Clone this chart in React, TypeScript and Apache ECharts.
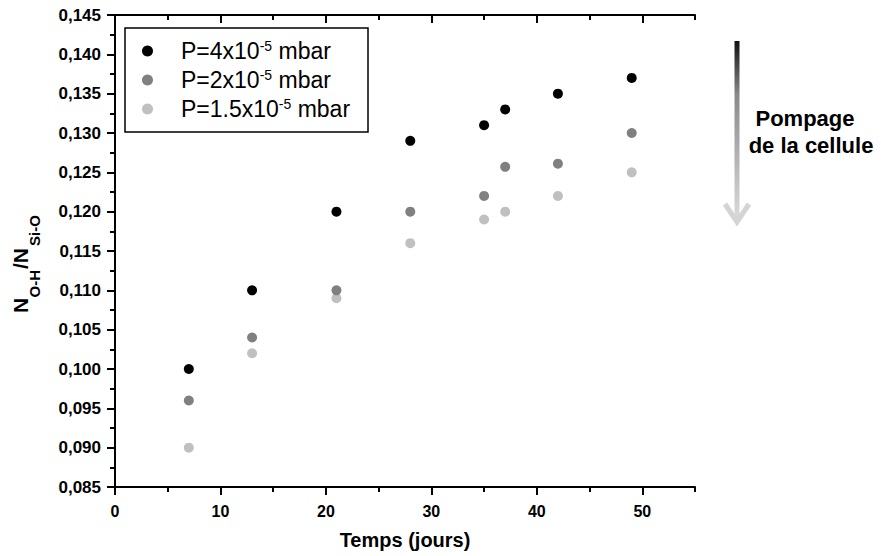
import React, { useEffect, useRef } from "react";
import * as echarts from "echarts";

const days = [7, 13, 21, 28, 35, 37, 42, 49];
const p4 = [0.1, 0.11, 0.12, 0.129, 0.131, 0.133, 0.135, 0.137];
const p2 = [0.096, 0.104, 0.11, 0.12, 0.122, 0.1257, 0.1261, 0.13];
const p15 = [0.09, 0.102, 0.109, 0.116, 0.119, 0.12, 0.122, 0.125];
const seriesNames = ["P=4x10-5 mbar", "P=2x10-5 mbar", "P=1.5x10-5 mbar"];
const seriesColors = ["#000000", "#808080", "#c0c0c0"];
const xTitle = "Temps (jours)";
const arrowLines = ["Pompage", "de la cellule"];

const FONT = "'Liberation Sans', Arial, sans-serif";

export default function App() {
  const ref = useRef<HTMLDivElement>(null);
  useEffect(() => {
    if (!ref.current) return;
    const chart = echarts.init(ref.current, undefined, { renderer: "svg" });
    const values = [p4, p2, p15];
    const tickStyle = { color: "#000", width: 2 };
    const xCommon = { type: "value", min: 0, max: 55, splitLine: { show: false } };
    const yCommon = { type: "value", min: 0.085, max: 0.145, interval: 0.005, splitLine: { show: false } };
    const option: any = {
      animation: false,
      backgroundColor: "#fff",
      grid: { left: 115, top: 15, width: 580, height: 472, outerBoundsMode: "none" },
      xAxis: [
        {
          ...xCommon, position: "bottom", interval: 10,
          name: xTitle, nameLocation: "middle", nameGap: 43,
          nameTextStyle: { fontFamily: FONT, fontWeight: "bold", fontSize: 20, color: "#000" },
          axisLine: { lineStyle: tickStyle },
          axisTick: { length: 8, lineStyle: tickStyle, customValues: [0, 10, 20, 30, 40, 50] },
          axisLabel: { fontFamily: FONT, fontWeight: "bold", fontSize: 16, color: "#000", margin: 16, showMaxLabel: false },
        },
        {
          ...xCommon, position: "bottom", interval: 5,
          axisLine: { show: false },
          axisTick: { length: 5, lineStyle: tickStyle },
          axisLabel: { show: false },
        },
        {
          ...xCommon, position: "top", interval: 10,
          axisLine: { lineStyle: tickStyle },
          axisTick: { inside: true, length: 8, lineStyle: tickStyle, customValues: [0, 10, 20, 30, 40, 50] },
          axisLabel: { show: false },
        },
        {
          ...xCommon, position: "top", interval: 5,
          axisLine: { show: false },
          axisTick: { inside: true, length: 5, lineStyle: tickStyle },
          axisLabel: { show: false },
        },
      ],
      yAxis: [
        {
          ...yCommon, position: "left",
          axisLine: { lineStyle: tickStyle },
          axisTick: { length: 8, lineStyle: tickStyle },
          minorTick: { show: true, splitNumber: 2, length: 5, lineStyle: tickStyle },
          axisLabel: {
            fontFamily: FONT, fontWeight: "bold", fontSize: 17, color: "#000", margin: 14,
            formatter: (v: number) => v.toFixed(3).replace(".", ","),
          },
        },
        {
          ...yCommon, position: "right",
          axisLine: { lineStyle: tickStyle },
          axisTick: { inside: true, length: 8, lineStyle: tickStyle },
          minorTick: { show: true, splitNumber: 2, length: 5, lineStyle: tickStyle },
          axisLabel: { show: false },
        },
      ],
      legend: {
        data: seriesNames,
        orient: "vertical",
        left: 142,
        top: 39,
        padding: 0,
        itemWidth: 57,
        itemHeight: 11,
        itemGap: 5,
        icon: "circle",
        itemStyle: { opacity: 1 },
        formatter: (n: string) => n.replace("10-5", "10{sup|-5}"),
        textStyle: {
          fontFamily: FONT, fontSize: 23, color: "#000", lineHeight: 24,
          rich: { sup: { fontFamily: FONT, fontSize: 14, color: "#000", verticalAlign: "top", lineHeight: 6 } },
        },
      },
      series: [2, 1, 0].map((k) => ({
        type: "scatter",
        name: seriesNames[k],
        symbol: "circle",
        symbolSize: 10,
        itemStyle: { color: seriesColors[k], opacity: 1 },
        xAxisIndex: 0,
        yAxisIndex: 0,
        data: days.map((d, i) => [d, values[k][i]]),
      })),
      graphic: [
        { type: "rect", shape: { x: 125, y: 28, width: 243, height: 104 }, style: { fill: "none", stroke: "#000", lineWidth: 1.5 }, z: 10 },
        { type: "text", x: 20.5, y: 313, rotation: Math.PI / 2, style: { text: "N", fontFamily: FONT, fontWeight: "bold", fontSize: 21, fill: "#000", align: "left", verticalAlign: "middle" } },
        { type: "text", x: 34, y: 297.5, rotation: Math.PI / 2, style: { text: "O-H", fontFamily: FONT, fontWeight: "bold", fontSize: 15, fill: "#000", align: "left", verticalAlign: "middle" } },
        { type: "text", x: 20.5, y: 269, rotation: Math.PI / 2, style: { text: "/N", fontFamily: FONT, fontWeight: "bold", fontSize: 21, fill: "#000", align: "left", verticalAlign: "middle" } },
        { type: "text", x: 34, y: 246, rotation: Math.PI / 2, style: { text: "Si-O", fontFamily: FONT, fontWeight: "bold", fontSize: 15, fill: "#000", align: "left", verticalAlign: "middle" } },
        {
          type: "rect", shape: { x: 734.5, y: 41, width: 5, height: 180 },
          style: {
            fill: new echarts.graphic.LinearGradient(0, 0, 0, 1, [
              { offset: 0, color: "#111111" },
              { offset: 0.3, color: "#8a8a8a" },
              { offset: 1, color: "#dcdcdc" },
            ]),
          },
        },
        { type: "polyline", shape: { points: [[725, 204], [737, 222], [749, 204]] }, style: { fill: "none", stroke: "#d4d4d4", lineWidth: 5 } },
        { type: "text", x: 805, y: 118, style: { text: arrowLines[0], fontFamily: FONT, fontWeight: "bold", fontSize: 22, fill: "#000", align: "center", verticalAlign: "middle" } },
        { type: "text", x: 811, y: 145, style: { text: arrowLines[1], fontFamily: FONT, fontWeight: "bold", fontSize: 22, fill: "#000", align: "center", verticalAlign: "middle" } },
      ],
    };
    chart.setOption(option);
    return () => chart.dispose();
  }, []);
  return (
    <div
      ref={ref}
      style={{ position: "fixed", left: 0, top: 0, width: 881, height: 556, background: "#fff" }}
    />
  );
}
